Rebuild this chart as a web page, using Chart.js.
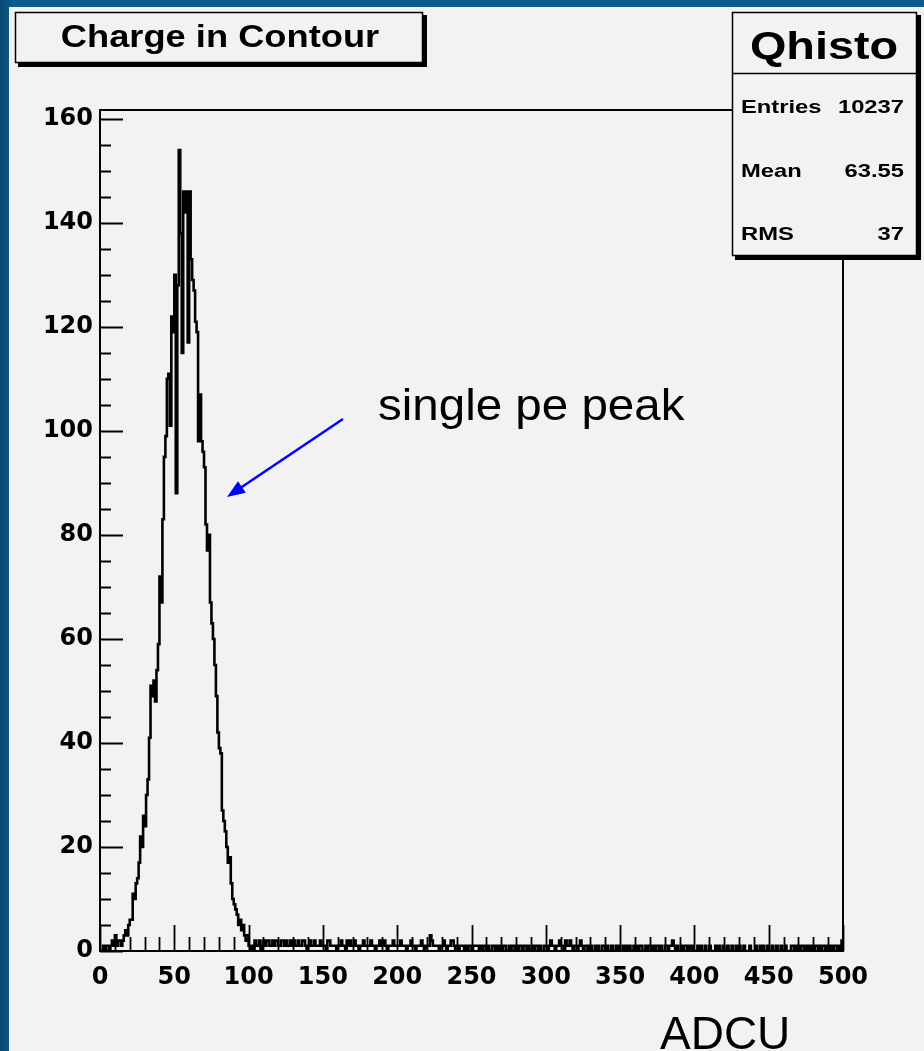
<!DOCTYPE html>
<html>
<head>
<meta charset="utf-8">
<script src="https://cdn.jsdelivr.net/npm/chart.js@4/dist/chart.umd.min.js"></script>
<style>
    html, body { margin: 0; padding: 0; }
    body { width: 924px; height: 1051px; background: linear-gradient(to right, #08466f, #0a5d8e 12px); position: relative; overflow: hidden; }
    #panel { position: absolute; left: 9px; top: 7px; width: 915px; height: 1044px; background: #f2f2f2; }
    #chart { position: absolute; left: 0; top: 0; }
</style>
</head>
<body>
<div id="panel"></div>
<canvas id="chart" width="924" height="1051"></canvas>
<script>
// Histogram range: 500 bins of 1 ADCU each
const X_MIN = 0;
const X_MAX = 500;
const BIN_W = 1;
const Y_MAX = 161.7;

// Bin contents (bin 0 .. 499)
const counts = [
    0, 0, 1, 0, 1, 1, 0, 1, 2, 1,
    3, 1, 2, 2, 1, 2, 3, 4, 3, 5,
    6, 6, 11, 10, 13, 14, 17, 22, 20, 26,
    24, 30, 33, 41, 51, 49, 52, 48, 54, 59,
    72, 67, 83, 95, 99, 110, 111, 101, 122, 119,
    130, 88, 128, 154, 138, 115, 146, 142, 146, 117,
    146, 133, 129, 127, 121, 119, 98, 107, 98, 96,
    93, 82, 77, 80, 67, 63, 60, 55, 49, 42,
    39, 38, 27, 25, 23, 20, 17, 18, 13, 10,
    9, 8, 7, 5, 6, 4, 5, 3, 2, 3,
    1, 0, 1, 0, 2, 1, 1, 2, 0, 1,
    2, 1, 2, 2, 1, 1, 2, 1, 2, 2,
    1, 1, 2, 2, 1, 2, 1, 1, 2, 1,
    2, 1, 1, 2, 1, 1, 2, 2, 1, 0,
    1, 2, 1, 1, 2, 1, 1, 1, 2, 1,
    1, 1, 0, 2, 2, 1, 1, 1, 1, 0,
    1, 1, 2, 1, 1, 0, 2, 1, 2, 1,
    1, 2, 1, 1, 0, 1, 1, 2, 1, 1,
    1, 1, 2, 1, 1, 0, 1, 1, 2, 1,
    1, 2, 1, 0, 1, 1, 1, 2, 1, 1,
    1, 1, 2, 1, 1, 1, 0, 1, 1, 2,
    1, 1, 0, 1, 1, 1, 2, 1, 0, 1,
    1, 1, 3, 2, 1, 1, 1, 1, 0, 1,
    1, 2, 1, 0, 1, 1, 2, 2, 1, 0,
    1, 0, 1, 1, 1, 0, 1, 0, 1, 1,
    0, 1, 1, 1, 1, 0, 1, 0, 1, 1,
    0, 1, 0, 0, 1, 1, 0, 1, 0, 1,
    0, 1, 1, 0, 0, 1, 0, 1, 1, 0,
    1, 0, 1, 1, 0, 1, 1, 0, 1, 0,
    0, 1, 0, 1, 1, 0, 1, 0, 0, 1,
    1, 0, 1, 2, 1, 1, 0, 1, 1, 2,
    1, 1, 0, 2, 1, 1, 2, 1, 0, 1,
    1, 0, 1, 2, 1, 0, 1, 1, 0, 1,
    1, 0, 0, 1, 0, 1, 0, 0, 1, 1,
    0, 1, 0, 0, 1, 0, 0, 1, 0, 1,
    0, 0, 1, 0, 1, 0, 1, 0, 0, 1,
    0, 1, 0, 1, 1, 0, 0, 1, 0, 1,
    1, 0, 1, 0, 1, 1, 0, 1, 0, 0,
    1, 1, 0, 1, 1, 2, 1, 0, 1, 0,
    0, 1, 0, 1, 1, 0, 1, 0, 1, 0,
    0, 0, 1, 0, 1, 0, 0, 1, 0, 0,
    1, 0, 0, 0, 1, 0, 1, 0, 0, 1,
    0, 0, 1, 0, 0, 1, 0, 0, 1, 0,
    1, 0, 0, 1, 0, 0, 0, 1, 0, 0,
    0, 1, 0, 0, 1, 0, 1, 0, 0, 1,
    0, 0, 1, 0, 0, 1, 0, 0, 1, 0,
    0, 1, 0, 0, 0, 1, 1, 0, 1, 0,
    1, 0, 1, 1, 0, 1, 0, 1, 0, 1,
    0, 1, 1, 0, 1, 0, 1, 1, 0, 1,
    1, 0, 1, 0, 1, 1, 0, 1, 0, 2
];

// Axis tick labels
const xTickValues = [0, 50, 100, 150, 200, 250, 300, 350, 400, 450, 500];
const yTickValues = [0, 20, 40, 60, 80, 100, 120, 140, 160];

// Texts of the ROOT canvas
const histTitle = 'Charge in Contour';
const statsName = 'Qhisto';
const statsLabels = ['Entries', 'Mean', 'RMS'];
const statsValues = ['10237', '63.55', '37'];
const annotation = 'single pe peak';
const axisUnit = 'ADCU';

// Points at the low edge of each bin, plus one closing point at the upper edge
const histPoints = counts.map((c, i) => ({ x: X_MIN + i * BIN_W, y: c }));
histPoints.push({ x: X_MAX, y: 0 });

// Draw a text stretched horizontally (ROOT fonts look wider)
function wideText(ctx, text, x, y, font, sx, align) {
    ctx.save();
    ctx.font = font;
    ctx.textAlign = align;
    ctx.textBaseline = 'alphabetic';
    ctx.translate(x, y);
    ctx.scale(sx, 1);
    ctx.fillText(text, 0, 0);
    ctx.restore();
}

// Frame, inward ticks, title, stats box and annotations
const rootFrame = {
    id: 'rootFrame',
    afterDatasetsDraw(chart) {
        const ctx = chart.ctx;
        const a = chart.chartArea;
        const xs = chart.scales.x;
        const ys = chart.scales.y;
        ctx.save();
        ctx.strokeStyle = '#000';
        ctx.lineWidth = 2;
        ctx.strokeRect(a.left, a.top, a.right - a.left, a.bottom - a.top);

        ctx.lineWidth = 1.8;
        ctx.beginPath();
        // x ticks: every 10, long every 50
        for (let v = X_MIN; v <= X_MAX; v += 10) {
            const px = Math.round(xs.getPixelForValue(v)) + 0.5;
            const len = (v % 50 === 0) ? 26 : 14;
            ctx.moveTo(px, a.bottom);
            ctx.lineTo(px, a.bottom - len);
        }
        // y ticks: every 5, long every 20
        for (let v = 0; v <= 160; v += 5) {
            const py = Math.round(ys.getPixelForValue(v)) + 0.5;
            const len = (v % 20 === 0) ? 23 : 11;
            ctx.moveTo(a.left, py);
            ctx.lineTo(a.left + len, py);
        }
        ctx.stroke();
        ctx.restore();
    },
    afterDraw(chart) {
        const ctx = chart.ctx;
        ctx.save();

        // title box
        ctx.fillStyle = '#000';
        ctx.fillRect(18, 15, 409, 52);
        ctx.fillStyle = '#f2f2f2';
        ctx.fillRect(15, 12, 408, 51);
        ctx.strokeStyle = '#000';
        ctx.lineWidth = 1.5;
        ctx.strokeRect(15.5, 12.5, 407, 50);
        ctx.fillStyle = '#000';
        wideText(ctx, histTitle, 220, 47, 'bold 31px "Liberation Sans", Arial, sans-serif', 1.17, 'center');

        // stats box
        ctx.fillStyle = '#000';
        ctx.fillRect(735, 15, 186, 245);
        ctx.fillStyle = '#f2f2f2';
        ctx.fillRect(732, 12, 185, 244);
        ctx.strokeRect(732.5, 12.5, 184, 243);
        ctx.beginPath();
        ctx.moveTo(732, 73.5);
        ctx.lineTo(917, 73.5);
        ctx.stroke();
        ctx.fillStyle = '#000';
        wideText(ctx, statsName, 824, 59, 'bold 39px "Liberation Sans", Arial, sans-serif', 1.2, 'center');
        const rowY = [113, 177, 240];
        statsLabels.forEach((lab, i) => {
            wideText(ctx, lab, 741, rowY[i], 'bold 19px "Liberation Sans", Arial, sans-serif', 1.25, 'left');
            wideText(ctx, statsValues[i], 904, rowY[i], 'bold 19px "Liberation Sans", Arial, sans-serif', 1.25, 'right');
        });

        // annotation arrow
        ctx.strokeStyle = '#0000ff';
        ctx.fillStyle = '#0000ff';
        ctx.lineWidth = 2.5;
        const x0 = 343, y0 = 419, x1 = 227, y1 = 497;
        const ang = Math.atan2(y1 - y0, x1 - x0);
        ctx.beginPath();
        ctx.moveTo(x0, y0);
        ctx.lineTo(x1 - 12 * Math.cos(ang), y1 - 12 * Math.sin(ang));
        ctx.stroke();
        ctx.beginPath();
        ctx.moveTo(x1, y1);
        ctx.lineTo(x1 - 18 * Math.cos(ang) + 7 * Math.sin(ang), y1 - 18 * Math.sin(ang) - 7 * Math.cos(ang));
        ctx.lineTo(x1 - 18 * Math.cos(ang) - 7 * Math.sin(ang), y1 - 18 * Math.sin(ang) + 7 * Math.cos(ang));
        ctx.closePath();
        ctx.fill();

        ctx.fillStyle = '#000';
        wideText(ctx, annotation, 378, 420, '44px "Liberation Sans", Arial, sans-serif', 1.08, 'left');
        wideText(ctx, axisUnit, 660, 1049, '46px "Liberation Sans", Arial, sans-serif', 1.0, 'left');

        ctx.restore();
    }
};

const ctx = document.getElementById('chart').getContext('2d');
const chart = new Chart(ctx, {
    type: 'line',
    data: {
        datasets: [{
            label: statsName,
            data: histPoints,
            stepped: 'before',
            borderColor: '#000',
            borderWidth: 2.6,
            pointRadius: 0,
            fill: false,
            tension: 0
        }]
    },
    options: {
        responsive: false,
        animation: false,
        layout: { padding: { left: 0, top: 110, right: 81, bottom: 0 } },
        plugins: {
            legend: { display: false },
            tooltip: { enabled: false }
        },
        scales: {
            x: {
                type: 'linear',
                min: X_MIN,
                max: X_MAX,
                afterFit: (s) => { s.height = 100; },
                afterBuildTicks: (s) => { s.ticks = xTickValues.map(v => ({ value: v })); },
                grid: { display: false, drawTicks: false },
                border: { display: false },
                ticks: {
                    color: '#000',
                    padding: 12,
                    maxRotation: 0,
                    autoSkip: false,
                    font: { family: 'DejaVu Sans', weight: 'bold', size: 24 }
                }
            },
            y: {
                type: 'linear',
                min: 0,
                max: Y_MAX,
                afterFit: (s) => { s.width = 100; },
                afterBuildTicks: (s) => { s.ticks = yTickValues.map(v => ({ value: v })); },
                grid: { display: false, drawTicks: false },
                border: { display: false },
                ticks: {
                    color: '#000',
                    padding: 7,
                    font: { family: 'DejaVu Sans', weight: 'bold', size: 24 }
                }
            }
        }
    },
    plugins: [rootFrame]
});
</script>
</body>
</html>
